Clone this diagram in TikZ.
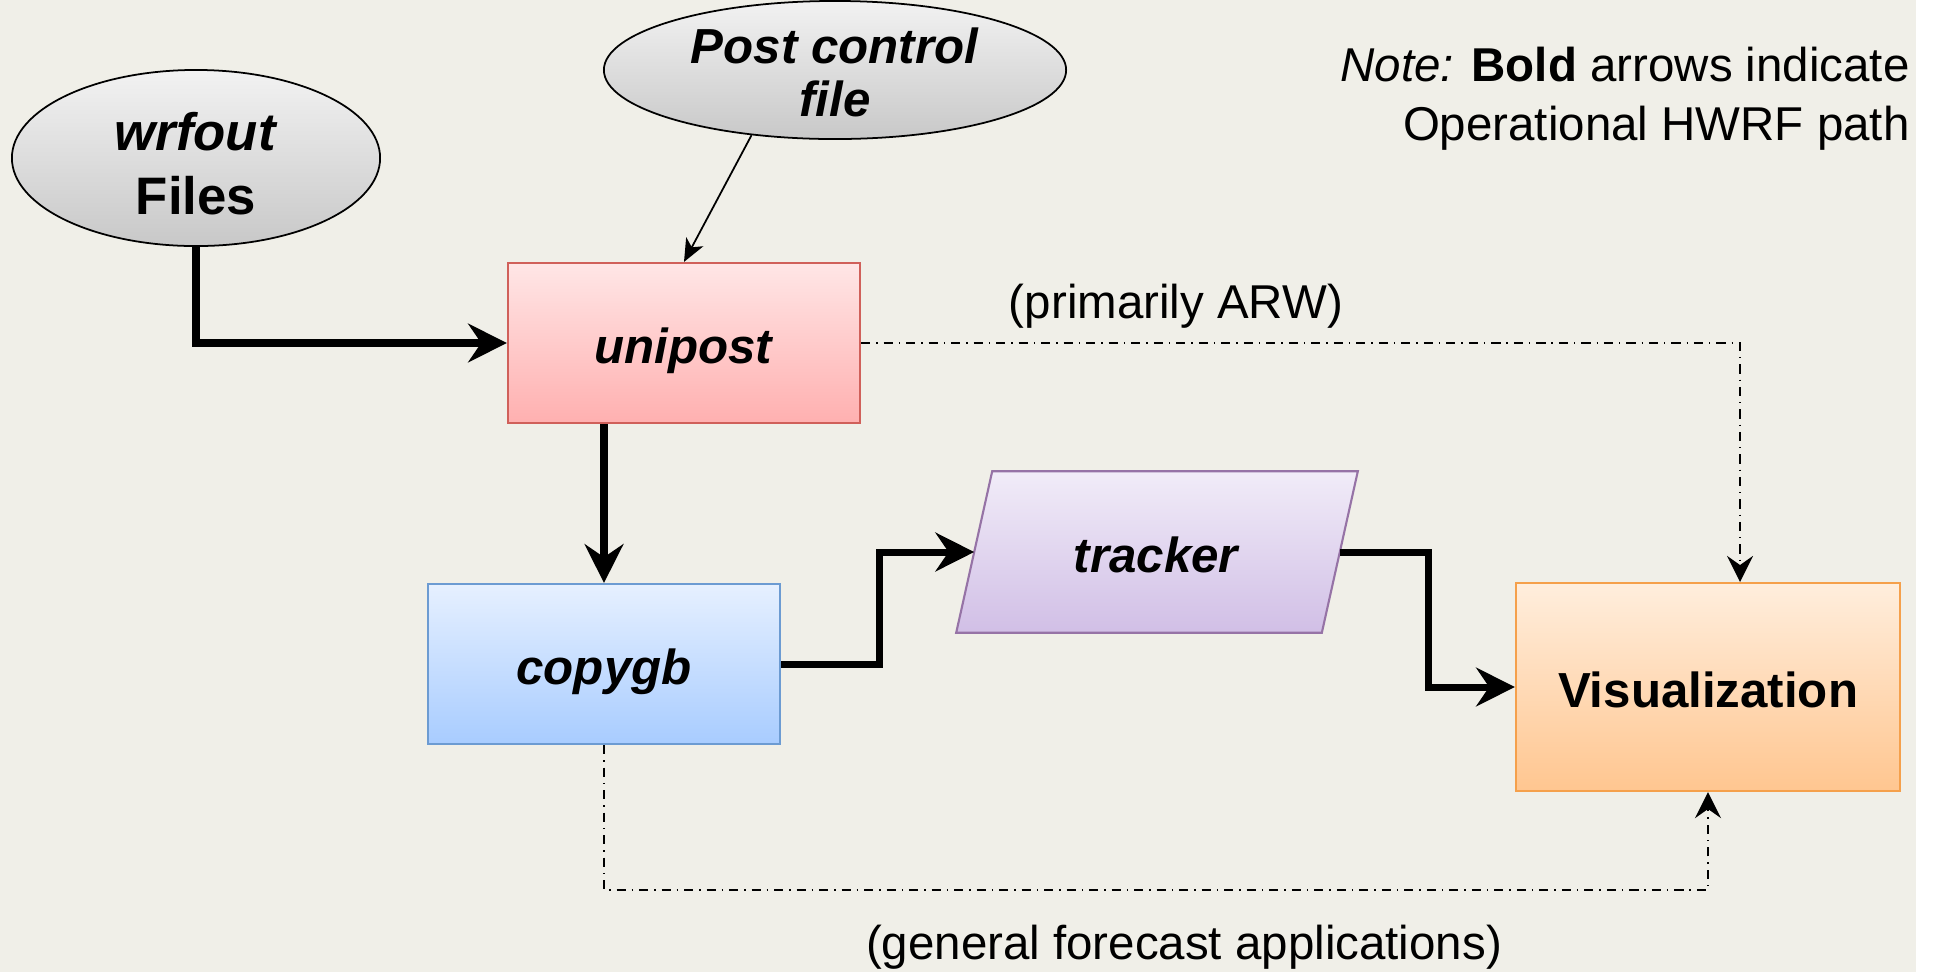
\documentclass[tikz,border=0pt]{standalone}
\usepackage{fontspec}
\setmainfont{Liberation Sans}
\usetikzlibrary{shapes.geometric,arrows.meta,calc}
\definecolor{bgcol}{HTML}{F0EFE8}
\definecolor{grayhi}{HTML}{F2F2F2}
\definecolor{graylo}{HTML}{C8C8C8}
\definecolor{redhi}{HTML}{FFE6E6}
\definecolor{redlo}{HTML}{FFB0B0}
\definecolor{redln}{HTML}{D0605A}
\definecolor{bluehi}{HTML}{E6F0FF}
\definecolor{bluelo}{HTML}{A8CCFF}
\definecolor{blueln}{HTML}{6C9BD2}
\definecolor{purphi}{HTML}{F1ECF8}
\definecolor{purplo}{HTML}{D1BFE6}
\definecolor{purpln}{HTML}{9673A6}
\definecolor{orahi}{HTML}{FFEEDD}
\definecolor{oralo}{HTML}{FFC690}
\definecolor{oraln}{HTML}{F5A04B}

\begin{document}
\begin{tikzpicture}[x=0.01cm,y=-0.01cm,
    lbl/.style={font=\fontsize{14}{17}\selectfont\bfseries},
    blob/.style={ellipse,draw=black,line width=0.5pt,top color=grayhi,bottom color=graylo,
      align=center,inner sep=0pt,lbl},
    box/.style={rectangle,draw=#1ln,line width=0.6pt,top color=#1hi,bottom color=#1lo,
      minimum width=3.52cm,minimum height=1.6cm,text height=11.5pt,text depth=0pt,lbl},
    boldarrow/.style={line width=2pt,-{Stealth[length=11pt,width=11pt,inset=3.7pt]}},
    thinarrow/.style={line width=0.5pt,-{Stealth[length=6.5pt,width=5.5pt,inset=1.8pt]}},
    altarrow/.style={line width=0.5pt,dash pattern=on 2.6pt off 1.7pt on 0.4pt off 1.7pt,
      -{Stealth[length=7.4pt,width=7.4pt,inset=2.6pt]}},
    note/.style={font=\fontsize{13.5}{16.8}\selectfont}]
    % background
    \useasboundingbox (0,0) rectangle (1934,972);
    \fill[bgcol] (0,0) rectangle (1916,972);

    % inputs
    \node[blob,minimum width=3.68cm,minimum height=1.76cm,text height=32pt,text depth=0pt,
      font=\fontsize{15}{18}\selectfont\bfseries] (wrf) at (196,158) {\textit{wrfout}\\Files};
    \node[blob,minimum width=4.62cm,minimum height=1.38cm,text height=26.5pt,text depth=0pt,
      font=\fontsize{14}{15}\selectfont\bfseries] (post) at (835,70) {\textit{Post control}\\\textit{file}};

    % processing
    \node[box=red] (unipost) at (684,343) {\textit{unipost}};
    \node[box=blue] (copygb) at (604,664) {\textit{copygb}};
    \node[minimum width=3.64cm,minimum height=1.6cm] (tracker) at (1157,552) {};
    \draw[draw=purpln,line width=0.6pt,top color=purphi,bottom color=purplo]
      ($(tracker.north west)+(18,0)$) -- ($(tracker.north east)+(18,0)$)
      -- ($(tracker.south east)+(-18,0)$) -- ($(tracker.south west)+(-18,0)$) -- cycle;
    \node[lbl,text height=11.5pt,text depth=0pt] at (tracker) {\textit{tracker}};
    \node[box=ora,minimum width=3.84cm,minimum height=2.08cm] (vis) at (1708,687) {Visualization};

    % operational path
    \draw[boldarrow] (wrf.south) |- (unipost.west);
    \draw[thinarrow] (post.218) -- (unipost.north);
    \draw[boldarrow] (copygb.north |- unipost.south) -- (copygb.north);
    \draw[boldarrow] (copygb.east) -- ++(98,0) |- (tracker.west);
    \draw[boldarrow] (tracker.east) -- ++(89,0) |- (vis.west);

    % other paths
    \draw[altarrow] (unipost.east) -| ([xshift=0.32cm]vis.north);
    \draw[altarrow] (copygb.south) -- ++(0,145) -| (vis.south);
    \node[note] (arwlbl) at (1176,306) {(primarily ARW)};
    \node[note] (genlbl) at (1184,947) {(general forecast applications)};

    \node[note,anchor=east,align=right] (notelbl) at (1922,99)
      {\textit{Note:} \textbf{Bold} arrows indicate\\Operational HWRF path};
\end{tikzpicture}
\end{document}
